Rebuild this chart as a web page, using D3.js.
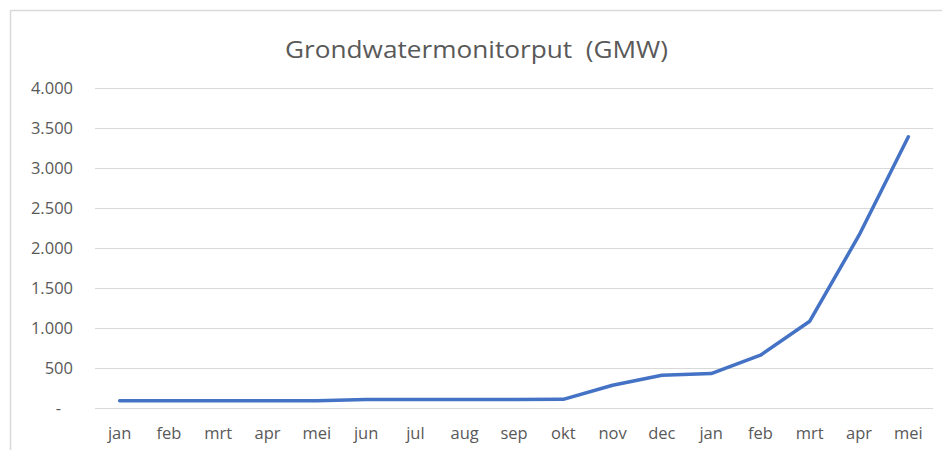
<!DOCTYPE html>
<html>
<head>
<meta charset="utf-8">
<script src="https://cdn.jsdelivr.net/npm/d3@7"></script>
<style>
  body { margin: 0; background: #fff; }
  text { font-family: "Open Sans", "DejaVu Sans", sans-serif; fill: #595959; }
</style>
</head>
<body>
<div id="chart"></div>
<script>
const months = ["jan", "feb", "mrt", "apr", "mei", "jun", "jul", "aug", "sep", "okt", "nov", "dec", "jan", "feb", "mrt", "apr", "mei"]
const values = [90, 90, 90, 90, 90, 105, 105, 105, 105, 108, 285, 410, 430, 660, 1085, 2160, 3390]
const yTicks = [0, 500, 1000, 1500, 2000, 2500, 3000, 3500, 4000]
const title = "Grondwatermonitorput  (GMW)"

const width = 942,
    height = 450,
    margin = { top: 88, right: 9, bottom: 42, left: 95 };

const svg = d3.select("#chart").append("svg")
    .attr("width", width)
    .attr("height", height)

// chart frame (only top and left edges visible in the crop)
svg.append("path")
    .attr("d", `M10.5,${height} V10.5 H${width}`)
    .attr("fill", "none")
    .attr("stroke", "#d9d9d9")
    .attr("stroke-width", 1.5)

const x = d3.scaleBand()
    .domain(d3.range(months.length))
    .range([margin.left, width - margin.right])

const y = d3.scaleLinear()
    .domain([0, 4000])
    .range([height - margin.bottom, margin.top])

const fmt = d => d === 0 ? "-" : d3.format(",")(d).replace(/,/g, ".")

// gridlines
svg.append("g")
    .selectAll("line")
    .data(yTicks)
    .join("line")
    .attr("x1", margin.left)
    .attr("x2", width - margin.right)
    .attr("y1", d => Math.round(y(d)) + 0.5)
    .attr("y2", d => Math.round(y(d)) + 0.5)
    .attr("stroke", "#d9d9d9")
    .attr("stroke-width", 1)

// y labels
svg.append("g")
    .selectAll("text")
    .data(yTicks)
    .join("text")
    .attr("x", d => d === 0 ? 61 : 73)
    .attr("y", d => y(d) + 6)
    .attr("text-anchor", "end")
    .style("font-size", "16.5px")
    .text(fmt)

// x labels
svg.append("g")
    .selectAll("text")
    .data(months)
    .join("text")
    .attr("x", (d, i) => x(i) + x.bandwidth() / 2)
    .attr("y", 439)
    .attr("text-anchor", "middle")
    .style("font-size", "16.5px")
    .text(d => d)

// line
const line = d3.line()
    .x((d, i) => x(i) + x.bandwidth() / 2)
    .y(d => y(d))

svg.append("path")
    .datum(values)
    .attr("d", line)
    .attr("fill", "none")
    .attr("stroke", "#4472c4")
    .attr("stroke-width", 3.5)
    .attr("stroke-linejoin", "round")
    .attr("stroke-linecap", "round")

svg.append("text")
    .attr("x", 476.5)
    .attr("y", 58)
    .attr("text-anchor", "middle")
    .attr("textLength", 383)
    .attr("lengthAdjust", "spacingAndGlyphs")
    .style("font-size", "23px")
    .style("white-space", "pre")
    .text(title)
</script>
</body>
</html>
